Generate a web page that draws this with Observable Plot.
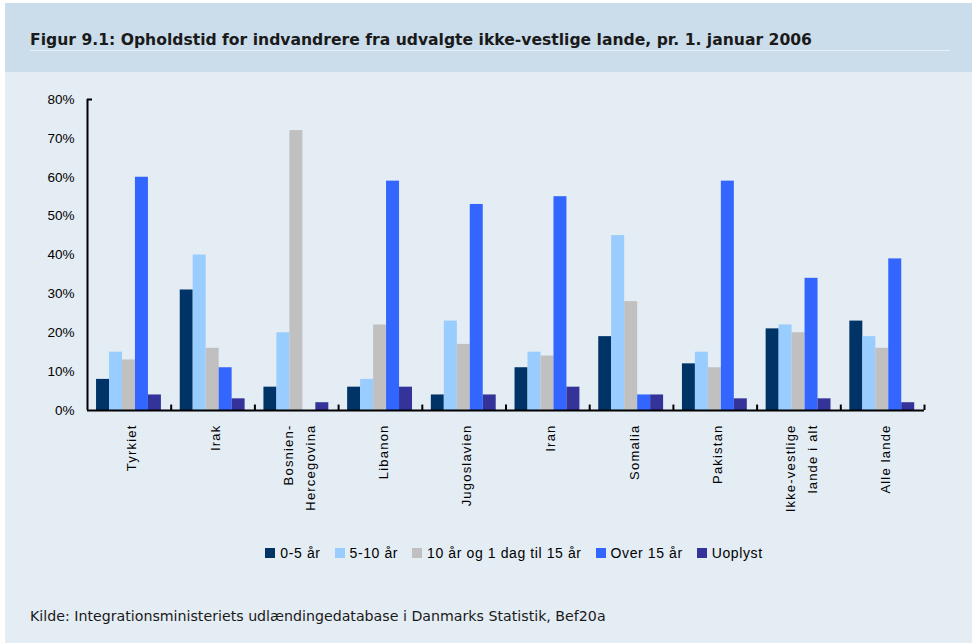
<!DOCTYPE html>
<html>
<head>
<meta charset="utf-8">
<script src="https://cdn.jsdelivr.net/npm/d3@7"></script>
<script src="https://cdn.jsdelivr.net/npm/@observablehq/plot@0.6"></script>
<style>
  html, body { margin: 0; padding: 0; background: #ffffff; }
  #page { position: relative; width: 972px; height: 643px; overflow: hidden; }
  #bg { position: absolute; left: 5px; top: 3px; right: 0; bottom: 0; background: #e4ecf4; }
  #header { position: absolute; left: 5px; top: 3px; width: 967px; height: 69px; background: #cbdcea; }
  #title { position: absolute; left: 30px; top: 31px; font-family: "DejaVu Sans", Verdana, sans-serif; font-weight: bold; font-size: 15.6px; color: #1a1a1a; white-space: nowrap; }
  #rule { position: absolute; left: 30px; top: 50px; width: 920px; height: 1px; background: #e6eef6; }
  #chart { position: absolute; left: 0; top: 80px; }
  #legend { position: absolute; left: 0; width: 1042px; top: 545px; display: flex; justify-content: center; font-family: "Liberation Sans", Arial, sans-serif; font-size: 14px; letter-spacing: 0.6px; color: #000; }
  #legend .item { display: flex; align-items: center; margin-right: 14px; white-space: nowrap; }
  #legend .sw { width: 10px; height: 10px; margin-right: 5px; }
  #caption { position: absolute; left: 30px; top: 608px; font-family: "DejaVu Sans", Verdana, sans-serif; font-size: 14.2px; color: #1a1a1a; white-space: nowrap; }
  #chart g[aria-label="text"] text { letter-spacing: 1.2px; }
</style>
</head>
<body>
<div id="page">
  <div id="bg"></div>
  <div id="header"></div>
  <div id="title"></div>
  <div id="rule"></div>
  <div id="chart"></div>
  <div id="legend"></div>
  <div id="caption"></div>
</div>
<script>
const titleText = "Figur 9.1: Opholdstid for indvandrere fra udvalgte ikke-vestlige lande, pr. 1. januar 2006";
const captionText = "Kilde: Integrationsministeriets udlændingedatabase i Danmarks Statistik, Bef20a";

const countries = ["Tyrkiet", "Irak", "Bosnien-\nHercegovina", "Libanon", "Jugoslavien", "Iran", "Somalia", "Pakistan", "Ikke-vestlige\nlande i alt", "Alle lande"];
const series = ["0-5 år", "5-10 år", "10 år og 1 dag til 15 år", "Over 15 år", "Uoplyst"];
const colors = ["#003366", "#99ccff", "#c0c0c0", "#3366ff", "#333399"];

const v0_5     = [8, 31, 6, 6, 4, 11, 19, 12, 21, 23];
const v5_10    = [15, 40, 20, 8, 23, 15, 45, 15, 22, 19];
const v10_15   = [13, 16, 72, 22, 17, 14, 28, 11, 20, 16];
const vOver15  = [60, 11, 0, 59, 53, 55, 4, 59, 34, 39];
const vUoplyst = [4, 3, 2, 6, 4, 6, 4, 3, 3, 2];

const yTicks = [0, 10, 20, 30, 40, 50, 60, 70, 80];

document.getElementById("title").textContent = titleText;
document.getElementById("caption").textContent = captionText;

const seriesValues = [v0_5, v5_10, v10_15, vOver15, vUoplyst];
const rows = [];
countries.forEach((c, i) => {
  series.forEach((s, j) => {
    rows.push({i, j, country: c, series: s, value: seriesValues[j][i]});
  });
});

// layout within each category band (in band units)
const groupPad = 0.108;
const barW = 0.155;
const boundaries = countries.map((c, i) => i + 1);

const chart = Plot.plot({
  width: 972,
  height: 440,
  marginLeft: 87,
  marginRight: 48,
  marginTop: 19,
  marginBottom: 110,
  style: { fontFamily: "'Liberation Sans', Arial, sans-serif", fontSize: "13px", background: "transparent", color: "#000" },
  x: { domain: [0, countries.length], axis: null },
  y: { domain: [0, 80], axis: null },
  color: { domain: series, range: colors },
  marks: [
    Plot.rectY(rows, {
      x1: d => d.i + groupPad + d.j * barW,
      x2: d => d.i + groupPad + (d.j + 1) * barW,
      y: "value",
      fill: "series"
    }),
    Plot.axisY({ticks: yTicks, tickFormat: d => d + "%", tickSize: 0, tickPadding: 13, fontSize: 13.5, label: null}),
    Plot.ruleX([0], {y1: 0, y2: 80, stroke: "#000", strokeWidth: 2}),
    Plot.ruleY([80], {x1: 0, x2: 0.06, stroke: "#000", strokeWidth: 2}),
    Plot.ruleY([0], {stroke: "#000", strokeWidth: 2}),
    Plot.ruleX(boundaries, {y1: 0, y2: 1.4, stroke: "#000", strokeWidth: 2}),
    Plot.text(countries, {
      x: (d, i) => i + 0.5,
      frameAnchor: "bottom",
      dy: 14,
      rotate: -90,
      textAnchor: "end",
      lineAnchor: "middle",
      lineHeight: 1.7,
      fontSize: 13,
      fill: "#000"
    })
  ]
});
document.getElementById("chart").appendChild(chart);

const legend = document.getElementById("legend");
series.forEach((s, j) => {
  const item = document.createElement("div");
  item.className = "item";
  const sw = document.createElement("div");
  sw.className = "sw";
  sw.style.background = colors[j];
  const t = document.createElement("span");
  t.textContent = s;
  item.appendChild(sw);
  item.appendChild(t);
  legend.appendChild(item);
});
</script>
</body>
</html>
